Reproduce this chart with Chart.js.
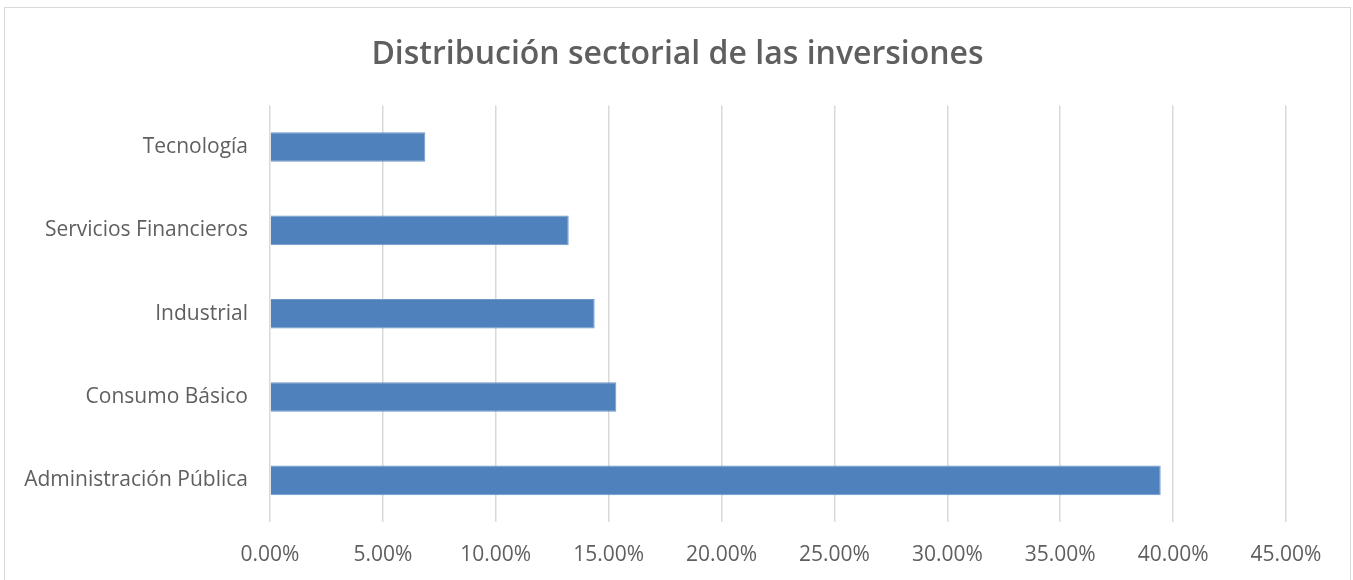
<!DOCTYPE html>
<html lang="es">
<head>
  <meta charset="UTF-8">
  <title>Distribución sectorial de las inversiones</title>
  <script src="https://cdn.jsdelivr.net/npm/chart.js"></script>
  <style>
    body {
      margin: 0;
      background: #fff;
      overflow: hidden;
    }
    #wrap {
      position: absolute;
      left: 4px;
      top: 7px;
      width: 1345px;
      height: 572px;
      border: 1px solid #d9d9d9;
    }
  </style>
</head>
<body>
  <div id="wrap"><canvas id="sectorChart"></canvas></div>

  <script>
    // Sectors, listed top to bottom as in the picture
    const sectors = ['Tecnología', 'Servicios Financieros', 'Industrial', 'Consumo Básico', 'Administración Pública'];
    const shares = [6.88, 13.23, 14.38, 15.34, 39.45];
    const xTicks = [0, 5, 10, 15, 20, 25, 30, 35, 40, 45];

    const textColor = '#5f5f5f';
    const gridColor = '#d9d9d9';
    const fontFamily = '"Open Sans", sans-serif';

    const ctx = document.getElementById('sectorChart').getContext('2d');
    new Chart(ctx, {
      type: 'bar',
      data: {
        labels: sectors,
        datasets: [{
          data: shares,
          backgroundColor: '#4f81bd',
          borderColor: '#6f97c9',
          borderWidth: 1,
          categoryPercentage: 1,
          barPercentage: 0.355
        }]
      },
      options: {
        indexAxis: 'y',
        responsive: true,
        maintainAspectRatio: false,
        animation: false,
        layout: { padding: 0 },
        plugins: {
          legend: { display: false },
          tooltip: { enabled: false },
          title: {
            display: true,
            text: 'Distribución sectorial de las inversiones',
            color: textColor,
            font: { family: fontFamily, size: 32, weight: '600' },
            padding: { top: 28, bottom: 31 }
          }
        },
        scales: {
          x: {
            min: 0,
            max: 45,
            afterBuildTicks: scale => { scale.ticks = xTicks.map(v => ({ value: v })); },
            afterFit: scale => { scale.height = 58; },
            grid: { color: gridColor, lineWidth: 1.5, drawTicks: false },
            border: { display: false },
            ticks: {
              color: textColor,
              font: { family: fontFamily, size: 21 },
              padding: 20,
              callback: v => v.toFixed(2) + '%'
            }
          },
          y: {
            afterFit: scale => { scale.width = 265; },
            grid: { display: false, drawTicks: false },
            border: { display: false },
            ticks: {
              color: textColor,
              font: { family: fontFamily, size: 21 },
              padding: 22
            }
          },
          // empty right-hand gutter, keeps the title centred on the whole box
          yRight: {
            type: 'category',
            position: 'right',
            afterFit: scale => { scale.width = 64; },
            grid: { display: false, drawTicks: false },
            border: { display: false },
            ticks: { display: false }
          }
        }
      }
    });
  </script>
</body>
</html>
